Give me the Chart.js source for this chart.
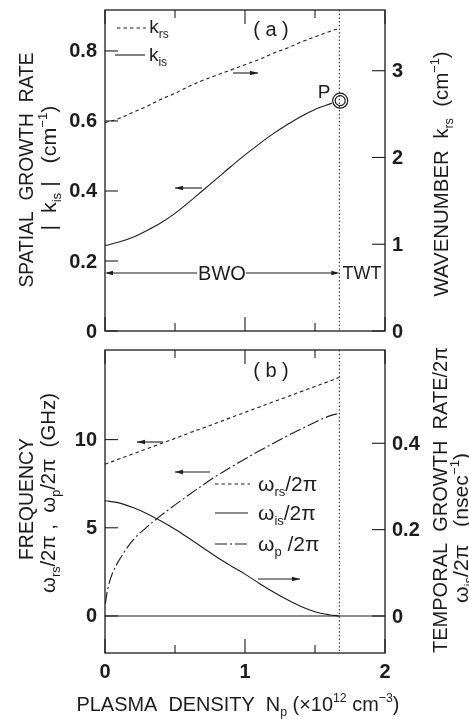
<!DOCTYPE html>
<html>
<head>
<meta charset="utf-8">
<script src="https://cdn.jsdelivr.net/npm/chart.js@4/dist/chart.umd.min.js"></script>
<style>
  html, body { margin: 0; padding: 0; background: #fff; }
  #wrap { position: relative; width: 469px; height: 719px; }
  canvas { position: absolute; left: 0; }
  #chartA { top: 0; }
  #chartB { top: 345px; }
</style>
</head>
<body>
<div id="wrap">
  <canvas id="chartA" width="469" height="345"></canvas>
  <canvas id="chartB" width="469" height="374"></canvas>
</div>
<script>
'use strict';

// ---- data ----
// panel (a): spatial growth rate |k_is| (left axis) and wavenumber k_rs (right axis)
const kisDensity = [0, 0.1, 0.2, 0.3, 0.4, 0.5, 0.6, 0.7, 0.8, 0.9, 1.0, 1.1, 1.2, 1.3, 1.4, 1.5, 1.62];
const kisValues  = [0.244, 0.254, 0.268, 0.287, 0.309, 0.336, 0.368, 0.402, 0.436, 0.470, 0.503, 0.534, 0.563, 0.589, 0.613, 0.633, 0.651];
const krsDensity = [0, 0.1, 0.2, 0.3, 0.4, 0.5, 0.6, 0.7, 0.8, 0.9, 1.0, 1.1, 1.2, 1.3, 1.4, 1.5, 1.6, 1.674];
const krsValues  = [2.40, 2.45, 2.52, 2.59, 2.67, 2.74, 2.82, 2.89, 2.95, 3.01, 3.07, 3.13, 3.20, 3.26, 3.33, 3.39, 3.45, 3.49];
const pointP = { x: 1.68, y: 0.658 };

// panel (b): frequencies (left axis, GHz) and temporal growth rate (right axis, 1/ns)
const bDensity = [0, 0.1, 0.2, 0.3, 0.4, 0.5, 0.6, 0.7, 0.8, 0.9, 1.0, 1.1, 1.2, 1.3, 1.4, 1.5, 1.6, 1.674];
const wrsValues = [8.60, 8.90, 9.19, 9.48, 9.78, 10.07, 10.37, 10.66, 10.95, 11.25, 11.54, 11.84, 12.13, 12.42, 12.72, 13.01, 13.30, 13.53];
const wisValues = [0.267, 0.262, 0.251, 0.237, 0.220, 0.201, 0.180, 0.158, 0.136, 0.116, 0.097, 0.076, 0.056, 0.038, 0.022, 0.010, 0.003, 0];
const wpDensity = [0.003, 0.02, 0.05, 0.1, 0.2, 0.3, 0.4, 0.5, 0.6, 0.7, 0.8, 0.9, 1.0, 1.1, 1.2, 1.3, 1.4, 1.5, 1.6, 1.674];
const wpValues  = [0.7, 1.55, 2.35, 3.15, 4.3, 5.05, 5.7, 6.3, 6.87, 7.43, 7.96, 8.44, 8.9, 9.35, 9.78, 10.2, 10.6, 10.98, 11.33, 11.5];
const zeroDensity = [0, 2];
const zeroValues  = [0, 0];

// BWO / TWT boundary
const boundaryDensity = 1.674;

// ticks
const xTicks = [0, 1, 2];
const xMinorTicks = [0.5, 1.5];
const aLeftTicks = [0, 0.2, 0.4, 0.6, 0.8];
const aRightTicks = [0, 1, 2, 3];
const bLeftTicks = [0, 5, 10];
const bRightTicks = [0, 0.2, 0.4];

const INK = '#1c1c1c';
const FONT = '"Liberation Sans", Arial, sans-serif';

function pts(xs, ys){ return xs.map((x, i) => ({ x: x, y: ys[i] })); }

// draws text made of plain / sub / sup pieces, centred at (x, y)
function rich(ctx, parts, x, y, size, opts){
  opts = opts || {};
  ctx.save();
  ctx.translate(x, y);
  if (opts.rot) ctx.rotate(opts.rot);
  const pieces = parts.map(p => {
    const mode = p[1] || '';
    const fs = mode ? Math.round(size * 0.62) : size;
    ctx.font = fs + 'px ' + FONT;
    return { t: p[0], mode: mode, fs: fs, w: ctx.measureText(p[0]).width };
  });
  const total = pieces.reduce((s, p) => s + p.w, 0);
  if (opts.width) ctx.scale(opts.width / total, 1);
  let cx = opts.align === 'left' ? 0 : -total / 2;
  ctx.textAlign = 'left';
  ctx.textBaseline = 'alphabetic';
  ctx.fillStyle = INK;
  const base = size * 0.36;
  pieces.forEach(p => {
    ctx.font = p.fs + 'px ' + FONT;
    let dy = base;
    if (p.mode === 'sub') dy += size * 0.26;
    if (p.mode === 'sup') dy -= size * 0.42;
    ctx.fillText(p.t, cx, dy);
    cx += p.w;
  });
  ctx.restore();
}

function arrowHead(ctx, x, y, dir){
  ctx.beginPath();
  ctx.moveTo(x, y);
  ctx.lineTo(x - dir * 8, y - 2.2);
  ctx.lineTo(x - dir * 8, y + 2.2);
  ctx.closePath();
  ctx.fill();
}

// horizontal arrow, head at x2
function arrow(ctx, x1, y, x2){
  ctx.beginPath();
  ctx.moveTo(x1, y);
  ctx.lineTo(x2, y);
  ctx.stroke();
  arrowHead(ctx, x2, y, x2 > x1 ? 1 : -1);
}

function line(ctx, x1, y1, x2, y2, dash){
  ctx.save();
  ctx.setLineDash(dash || []);
  ctx.beginPath();
  ctx.moveTo(x1, y1);
  ctx.lineTo(x2, y2);
  ctx.stroke();
  ctx.restore();
}

// frame, inward ticks, tick labels and the boundary line
function drawFrame(chart, leftTicks, rightTicks, leftFmt, rightFmt){
  const ctx = chart.ctx, a = chart.chartArea, s = chart.scales;
  ctx.save();
  ctx.strokeStyle = INK;
  ctx.fillStyle = INK;
  ctx.lineWidth = 1.3;
  ctx.strokeRect(a.left, a.top, a.right - a.left, a.bottom - a.top);

  ctx.lineWidth = 1.1;
  leftTicks.forEach(v => {
    const y = s.yL.getPixelForValue(v);
    line(ctx, a.left, y, a.left + 13, y);
  });
  rightTicks.forEach(v => {
    const y = s.yR.getPixelForValue(v);
    line(ctx, a.right - 13, y, a.right, y);
  });
  xTicks.concat(xMinorTicks).forEach(v => {
    const x = s.x.getPixelForValue(v);
    const len = xMinorTicks.indexOf(v) >= 0 ? 8 : 14;
    line(ctx, x, a.top, x, a.top + len);
    line(ctx, x, a.bottom, x, a.bottom - len);
  });

  ctx.font = 'bold 20px ' + FONT;
  ctx.textBaseline = 'middle';
  ctx.textAlign = 'right';
  leftTicks.forEach(v => ctx.fillText(leftFmt(v), a.left - 8, s.yL.getPixelForValue(v) + 1));
  ctx.textAlign = 'left';
  rightTicks.forEach(v => ctx.fillText(rightFmt(v), a.right + 7, s.yR.getPixelForValue(v) + 1));

  // dotted boundary
  ctx.lineWidth = 1;
  const bx = s.x.getPixelForValue(boundaryDensity);
  line(ctx, bx, a.top, bx, a.bottom, [1.5, 2.2]);
  ctx.restore();
}

function fmt1(v){ return v === 0 ? '0' : v.toFixed(1); }
function fmt0(v){ return String(v); }

function drawPanelA(chart){
  const ctx = chart.ctx, s = chart.scales;
  drawFrame(chart, aLeftTicks, aRightTicks, fmt1, fmt0);
  ctx.save();
  ctx.strokeStyle = INK;
  ctx.fillStyle = INK;
  ctx.lineWidth = 1.1;

  // legend
  line(ctx, 117, 28, 146, 28, [3.5, 3]);
  rich(ctx, [['k'], ['rs', 'sub']], 159, 26, 19);
  line(ctx, 115, 55, 145, 55);
  rich(ctx, [['k'], ['is', 'sub']], 158, 54, 19);

  rich(ctx, [['( a )']], 271, 29, 20);

  // arrows pointing at the axis of each curve
  arrow(ctx, 233, 73, 258);
  arrow(ctx, 202, 188, 175);

  // P point
  const px = s.x.getPixelForValue(pointP.x), py = s.yL.getPixelForValue(pointP.y);
  ctx.lineWidth = 1.2;
  ctx.beginPath(); ctx.arc(px, py, 7.5, 0, Math.PI * 2); ctx.stroke();
  ctx.beginPath(); ctx.arc(px, py, 5, 0, Math.PI * 2); ctx.stroke();
  rich(ctx, [['P']], 324, 91, 19);

  // BWO / TWT
  ctx.lineWidth = 1.1;
  const x0 = s.x.getPixelForValue(0), xb = s.x.getPixelForValue(boundaryDensity);
  line(ctx, x0 + 2, 273, 197, 273);
  arrowHead(ctx, x0, 273, -1);
  line(ctx, 246, 273, xb - 2, 273);
  arrowHead(ctx, xb, 273, 1);
  rich(ctx, [['BWO']], 222, 273, 20);
  rich(ctx, [['TWT']], 362, 273, 18);

  // axis titles
  const up = -Math.PI / 2;
  rich(ctx, [['SPATIAL  GROWTH  RATE']], 25, 170, 21, { rot: up, width: 235 });
  rich(ctx, [['|  k'], ['is', 'sub'], [' |   (cm'], ['\u22121', 'sup'], [')']], 48, 168, 21, { rot: up, width: 125 });
  rich(ctx, [['WAVENUMBER  k'], ['rs', 'sub'], ['  (cm'], ['\u22121', 'sup'], [')']], 440, 174, 21, { rot: up, width: 245 });
  ctx.restore();
}

function drawPanelB(chart){
  const ctx = chart.ctx, s = chart.scales, a = chart.chartArea;
  drawFrame(chart, bLeftTicks, bRightTicks, fmt0, fmt1);
  ctx.save();
  ctx.strokeStyle = INK;
  ctx.fillStyle = INK;
  ctx.lineWidth = 1.1;

  ctx.font = 'bold 20px ' + FONT;
  ctx.textAlign = 'center';
  ctx.textBaseline = 'middle';
  xTicks.forEach(v => ctx.fillText(String(v), s.x.getPixelForValue(v), a.bottom + 19));

  rich(ctx, [['( b )']], 271, 25, 20);

  // legend
  line(ctx, 215, 139, 250, 139, [3.5, 3]);
  rich(ctx, [['\u03c9'], ['rs', 'sub'], ['/2\u03c0']], 258, 138, 21, { align: 'left' });
  line(ctx, 215, 168, 248, 168);
  rich(ctx, [['\u03c9'], ['is', 'sub'], ['/2\u03c0']], 258, 167, 21, { align: 'left' });
  line(ctx, 215, 199, 248, 199, [12, 3, 2, 3]);
  rich(ctx, [['\u03c9'], ['p', 'sub'], [' /2\u03c0']], 258, 198, 21, { align: 'left' });

  arrow(ctx, 163, 97, 137);
  arrow(ctx, 210, 127, 175);
  arrow(ctx, 258, 234, 300);

  const up = -Math.PI / 2;
  rich(ctx, [['FREQUENCY']], 25, 154, 21, { rot: up, width: 122 });
  rich(ctx, [['\u03c9'], ['rs', 'sub'], ['/2\u03c0 ,  \u03c9'], ['p', 'sub'], ['/2\u03c0  (GHz)']], 47, 148, 21, { rot: up, width: 200 });
  rich(ctx, [['TEMPORAL  GROWTH  RATE/2\u03c0']], 439, 155, 21, { rot: up, width: 306 });
  rich(ctx, [['\u03c9'], ['is', 'sub'], ['/2\u03c0   (nsec'], ['\u22121', 'sup'], [')']], 460, 183, 21, { rot: up, width: 150 });

  rich(ctx, [['PLASMA  DENSITY  N'], ['p', 'sub'], [' (\u00d710'], ['12', 'sup'], [' cm'], ['\u22123', 'sup'], [')']], 238, 358, 21, { width: 323 });
  ctx.restore();
}

const whiteBg = {
  id: 'whiteBg',
  beforeDraw(chart){
    const c = chart.ctx;
    c.save();
    c.fillStyle = '#fff';
    c.fillRect(0, 0, chart.width, chart.height);
    c.restore();
  }
};

function ds(data, axis, dash){
  return {
    data: data,
    yAxisID: axis,
    borderColor: INK,
    borderWidth: 1.1,
    borderDash: dash || [],
    pointRadius: 0,
    fill: false,
    tension: 0.35
  };
}

function makeChart(id, datasets, yL, yR, padding, draw){
  const el = document.getElementById(id);
  return new Chart(el, {
    type: 'line',
    data: { datasets: datasets },
    options: {
      responsive: false,
      animation: false,
      devicePixelRatio: 1,
      layout: { padding: padding },
      plugins: { legend: { display: false }, tooltip: { enabled: false } },
      scales: {
        x: { type: 'linear', min: 0, max: 2, display: false },
        yL: Object.assign({ type: 'linear', position: 'left', display: false }, yL),
        yR: Object.assign({ type: 'linear', position: 'right', display: false }, yR)
      }
    },
    plugins: [whiteBg, { id: 'figure', afterDraw: draw }]
  });
}

makeChart('chartA', [
  ds(pts(kisDensity, kisValues), 'yL'),
  ds(pts(krsDensity, krsValues), 'yR', [3.5, 3])
], { min: 0, max: 0.917 }, { min: 0, max: 3.70 },
{ left: 105, right: 84, top: 10, bottom: 14 }, drawPanelA);

makeChart('chartB', [
  ds(pts(zeroDensity, zeroValues), 'yL'),
  ds(pts(bDensity, wrsValues), 'yL', [3.5, 3]),
  ds(pts(wpDensity, wpValues), 'yL', [12, 3, 2, 3]),
  ds(pts(bDensity, wisValues), 'yR')
], { min: -2.10, max: 15.08 }, { min: -0.0857, max: 0.616 },
{ left: 105, right: 84, top: 5, bottom: 66 }, drawPanelB);
</script>
</body>
</html>
